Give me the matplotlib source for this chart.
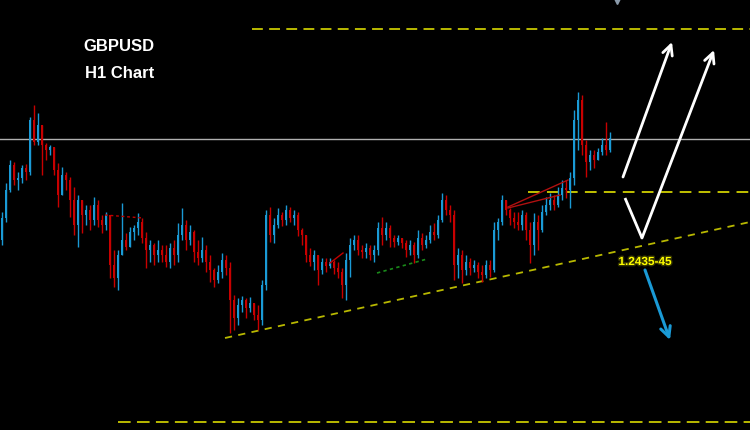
import matplotlib
matplotlib.use("Agg")
import matplotlib.pyplot as plt
import matplotlib.patheffects as pe
import numpy as np

# GBPUSD H1 candles (open of each bar = previous close)
first_open = 1.2445
closes = [1.2467, 1.2495, 1.2520, 1.2505, 1.2507, 1.2517, 1.2513, 1.2565, 1.2543, 1.2560,
          1.2540, 1.2535, 1.2538, 1.2515, 1.2490, 1.2510, 1.2505, 1.2485, 1.2460, 1.2485,
          1.2470, 1.2475, 1.2465, 1.2480, 1.2465, 1.2460, 1.2470, 1.2420, 1.2407, 1.2430,
          1.2445, 1.2438, 1.2453, 1.2457, 1.2463, 1.2447, 1.2435, 1.2440, 1.2430, 1.2435,
          1.2430, 1.2423, 1.2437, 1.2430, 1.2450, 1.2460, 1.2445, 1.2453, 1.2433, 1.2427,
          1.2435, 1.2423, 1.2415, 1.2405, 1.2413, 1.2425, 1.2417, 1.2385, 1.2367, 1.2380,
          1.2385, 1.2377, 1.2382, 1.2370, 1.2365, 1.2400, 1.2470, 1.2450, 1.2460, 1.2470,
          1.2465, 1.2475, 1.2467, 1.2470, 1.2455, 1.2450, 1.2430, 1.2423, 1.2430, 1.2415,
          1.2423, 1.2419, 1.2423, 1.2417, 1.2413, 1.2400, 1.2425, 1.2440, 1.2445, 1.2435,
          1.2433, 1.2437, 1.2430, 1.2435, 1.2457, 1.2450, 1.2457, 1.2447, 1.2443, 1.2447,
          1.2442, 1.2435, 1.2440, 1.2430, 1.2447, 1.2440, 1.2445, 1.2453, 1.2450, 1.2465,
          1.2485, 1.2475, 1.2470, 1.2420, 1.2430, 1.2415, 1.2423, 1.2417, 1.2420, 1.2413,
          1.2410, 1.2420, 1.2415, 1.2455, 1.2463, 1.2485, 1.2475, 1.2467, 1.2463, 1.2460,
          1.2470, 1.2455, 1.2440, 1.2463, 1.2455, 1.2473, 1.2480, 1.2485, 1.2480, 1.2490,
          1.2497, 1.2495, 1.2507, 1.2565, 1.2585, 1.2540, 1.2523, 1.2530, 1.2525, 1.2533,
          1.2540, 1.2535, 1.2547]
highs = [1.2473, 1.2502, 1.2525, 1.2523, 1.2513, 1.2520, 1.2521, 1.2568, 1.2580, 1.2572,
         1.2557, 1.2542, 1.2540, 1.2528, 1.2522, 1.2518, 1.2513, 1.2508, 1.2498, 1.2490,
         1.2478, 1.2480, 1.2480, 1.2488, 1.2485, 1.2470, 1.2473, 1.2470, 1.2435, 1.2435,
         1.2482, 1.2452, 1.2458, 1.2460, 1.2472, 1.2467, 1.2453, 1.2445, 1.2442, 1.2445,
         1.2440, 1.2440, 1.2442, 1.2445, 1.2462, 1.2477, 1.2465, 1.2460, 1.2455, 1.2445,
         1.2448, 1.2440, 1.2430, 1.2417, 1.2420, 1.2432, 1.2430, 1.2423, 1.2390, 1.2387,
         1.2389, 1.2387, 1.2388, 1.2382, 1.2380, 1.2405, 1.2475, 1.2478, 1.2467, 1.2477,
         1.2473, 1.2480, 1.2478, 1.2475, 1.2473, 1.2457, 1.2450, 1.2437, 1.2435, 1.2430,
         1.2427, 1.2427, 1.2427, 1.2425, 1.2423, 1.2417, 1.2432, 1.2447, 1.2450, 1.2450,
         1.2440, 1.2442, 1.2440, 1.2440, 1.2463, 1.2468, 1.2463, 1.2460, 1.2450, 1.2450,
         1.2447, 1.2445, 1.2445, 1.2443, 1.2455, 1.2452, 1.2450, 1.2460, 1.2462, 1.2470,
         1.2492, 1.2490, 1.2480, 1.2475, 1.2437, 1.2435, 1.2430, 1.2427, 1.2425, 1.2423,
         1.2420, 1.2425, 1.2425, 1.2463, 1.2467, 1.2490, 1.2485, 1.2477, 1.2473, 1.2473,
         1.2475, 1.2473, 1.2463, 1.2472, 1.2470, 1.2480, 1.2488, 1.2492, 1.2490, 1.2498,
         1.2505, 1.2505, 1.2513, 1.2575, 1.2593, 1.2590, 1.2545, 1.2535, 1.2535, 1.2537,
         1.2547, 1.2563, 1.2553]
lows = [1.2440, 1.2463, 1.2493, 1.2500, 1.2495, 1.2502, 1.2505, 1.2510, 1.2540, 1.2540,
        1.2510, 1.2525, 1.2530, 1.2510, 1.2478, 1.2495, 1.2495, 1.2468, 1.2450, 1.2438,
        1.2452, 1.2460, 1.2455, 1.2460, 1.2458, 1.2452, 1.2455, 1.2407, 1.2398, 1.2395,
        1.2433, 1.2435, 1.2438, 1.2445, 1.2450, 1.2442, 1.2417, 1.2423, 1.2420, 1.2423,
        1.2423, 1.2418, 1.2417, 1.2420, 1.2423, 1.2445, 1.2435, 1.2440, 1.2423, 1.2420,
        1.2423, 1.2413, 1.2403, 1.2398, 1.2402, 1.2407, 1.2410, 1.2352, 1.2355, 1.2360,
        1.2373, 1.2367, 1.2373, 1.2365, 1.2355, 1.2360, 1.2395, 1.2443, 1.2442, 1.2457,
        1.2459, 1.2460, 1.2463, 1.2460, 1.2449, 1.2440, 1.2423, 1.2419, 1.2415, 1.2400,
        1.2411, 1.2413, 1.2417, 1.2411, 1.2407, 1.2387, 1.2385, 1.2408, 1.2435, 1.2430,
        1.2427, 1.2427, 1.2425, 1.2423, 1.2430, 1.2440, 1.2445, 1.2438, 1.2438, 1.2440,
        1.2437, 1.2428, 1.2430, 1.2422, 1.2427, 1.2435, 1.2437, 1.2442, 1.2445, 1.2447,
        1.2463, 1.2470, 1.2463, 1.2405, 1.2407, 1.2402, 1.2410, 1.2410, 1.2413, 1.2407,
        1.2403, 1.2407, 1.2408, 1.2413, 1.2445, 1.2460, 1.2470, 1.2460, 1.2457, 1.2455,
        1.2455, 1.2445, 1.2422, 1.2430, 1.2435, 1.2453, 1.2470, 1.2475, 1.2475, 1.2478,
        1.2485, 1.2487, 1.2477, 1.2500, 1.2535, 1.2530, 1.2508, 1.2515, 1.2517, 1.2525,
        1.2530, 1.2530, 1.2533]

# levels and drawings (bar index, price)
resistance_level = 1.2546
upper_target = 1.2656
breakout_level = 1.2493
lower_target = 1.2263
trend_start = (55.75, 1.2347)
trend_end = (187.0, 1.2463)
support_label = "1.2435-45"

BULL = "#1a9ad6"
BEAR = "#c80000"

opens = [first_open] + closes[:-1]
o = np.array(opens)
c = np.array(closes)
h = np.maximum(np.array(highs), np.maximum(o, c))
l = np.minimum(np.array(lows), np.minimum(o, c))
idx = np.arange(len(closes))
cols = np.where(c >= o, BULL, BEAR)

fig = plt.figure(figsize=(7.5, 4.3), dpi=100, facecolor="black")
ax = fig.add_axes([0, 0, 1, 1])
ax.set_facecolor("black")
ax.set_xlim(-0.5, 187)
ax.set_ylim(1.2255, 1.2685)
ax.axis("off")

# candles
ax.vlines(idx, l, h, colors=cols, lw=1.0, zorder=3)
body = np.where(np.abs(c - o) < 0.00005, 0.00005, c - o)
ax.bar(idx, body, bottom=o, width=0.6, color=cols, lw=0, zorder=3)

# horizontal levels
ax.axhline(resistance_level, color="#b0b0b0", lw=1.0, zorder=2)
ax.plot([62.5, 187], [upper_target] * 2, color="#c8c800", lw=1.3, ls=(0, (6, 3.5)))
ax.plot([131.5, 187], [breakout_level] * 2, color="#d0d000", lw=1.3, ls=(0, (6.5, 4)))
ax.plot([29, 187], [lower_target] * 2, color="#c8c800", lw=1.3, ls=(0, (7, 3.5)))
ax.plot([trend_start[0], trend_end[0]], [trend_start[1], trend_end[1]],
        color="#b8b800", lw=1.3, ls=(0, (4, 3.5)))

# small pattern lines
ax.plot([25.75, 35.25], [1.2470, 1.2467], color="#c00000", lw=1, ls=(0, (2, 2)), zorder=4)
ax.plot([82, 85.25], [1.2422, 1.2432], color="#c00000", lw=1, zorder=4)
ax.plot([93.75, 106.25], [1.2412, 1.2426], color="#1a8a1a", lw=1.2, ls=(0, (2, 2)), zorder=4)
ax.plot([126.5, 141.5], [1.2478, 1.2505], color="#b01010", lw=1, zorder=4)
ax.plot([126.5, 139.5], [1.2477, 1.2490], color="#b01010", lw=1, zorder=4)

# scenario arrows
arrow_w = dict(arrowstyle="->", color="white", lw=2, mutation_scale=18,
               shrinkA=0, shrinkB=0)
ax.annotate("", xy=(167.5, 1.2643), xytext=(155.25, 1.2508), arrowprops=arrow_w)
ax.plot([155.75, 160], [1.2487, 1.2447], color="white", lw=2, solid_capstyle="butt")
ax.annotate("", xy=(178, 1.2635), xytext=(160, 1.2447), arrowprops=arrow_w)
ax.annotate("", xy=(167, 1.2345), xytext=(160.75, 1.2415),
            arrowprops=dict(arrowstyle="->", color="#1a9ad6", lw=2.2,
                            mutation_scale=18, shrinkA=0, shrinkB=0))
ax.plot([153.75], [1.2684], marker="v", color="#8a9aaa", ms=4)

ax.text(160.75, 1.2423, support_label, color="#ffff00", fontsize=8.5, fontweight="bold",
        ha="center", va="center", family="Liberation Sans",
        path_effects=[pe.withStroke(linewidth=2, foreground="#333300")])

ax.text(0.159, 0.891, "GBPUSD", transform=ax.transAxes, color="white", fontsize=12,
        fontweight="bold", ha="center", va="center", family="Liberation Sans")
ax.text(0.159, 0.828, "H1 Chart", transform=ax.transAxes, color="white", fontsize=12,
        fontweight="bold", ha="center", va="center", family="Liberation Sans")

fig.savefig("out.png", dpi=100, facecolor="black")
